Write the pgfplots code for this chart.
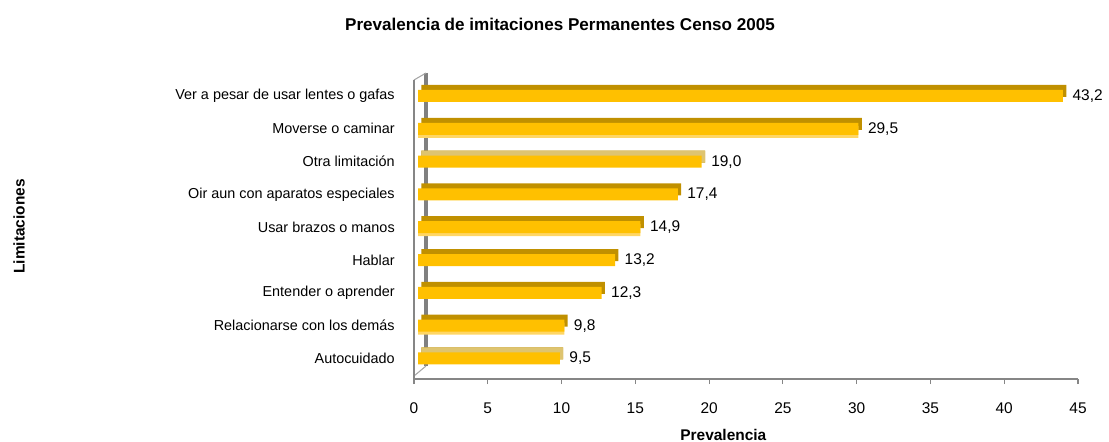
\documentclass[border=0pt]{standalone}
\usepackage{pgfplots}
\usepackage{pgfplotstable}
\pgfplotsset{compat=1.18}
\usepackage{fontspec}
\setmainfont{Liberation Sans}
\definecolor{barmain}{RGB}{255,192,0}
\definecolor{bardark}{RGB}{192,144,0}
\definecolor{barlight}{RGB}{222,196,112}
\definecolor{barpale}{RGB}{255,214,100}
\definecolor{axisgray}{RGB}{134,134,134}
\definecolor{wallgray}{RGB}{128,128,128}

\pgfplotstableread{
y x label
0 43.2 43,2
1 29.5 29,5
2 19.0 19,0
3 17.4 17,4
4 14.9 14,9
5 13.2 13,2
6 12.3 12,3
7 9.8 9,8
8 9.5 9,5
}\datatable

\pgfplotstableread{
y x
2 19.0
8 9.5
}\lighttable

\pgfplotstableread{
y x
1 29.5
4 14.9
7 9.8
}\paletable

\begin{document}
\begin{tikzpicture}
\useasboundingbox (-310.5pt,-47.25pt) rectangle (521.25pt,284.25pt);
\begin{axis}[
  at={(0,0)}, anchor=south west,
  scale only axis, width=498pt, height=224.25pt,
  xmin=0, xmax=45, ymin=-0.488, ymax=8.628, y dir=reverse,
  axis x line*=bottom, axis y line*=left,
  y axis line style={draw=none},
  x axis line style={draw=axisgray, line width=1pt},
  xtick={0,5,...,45},
  xtick style={draw=axisgray, line width=0.8pt},
  major tick length=3.75pt, tick align=outside,
  ytick={0,...,8},
  yticklabels={Ver a pesar de usar lentes o gafas, Moverse o caminar, Otra limitación, Oir aun con aparatos especiales, Usar brazos o manos, Hablar, Entender o aprender, Relacionarse con los demás, Autocuidado},
  ytick style={draw=none},
  xticklabel style={font=\fontsize{11.6pt}{14pt}\selectfont, inner sep=0pt, anchor=north, yshift=-14pt},
  yticklabel style={font=\fontsize{10.8pt}{13pt}\selectfont, inner sep=0pt, anchor=east, xshift=-10.5pt},
  /pgf/number format/assume math mode=true,
  clip=false,
]
\end{axis}
\draw[wallgray, line width=2.6pt] (9pt,229.5pt) -- (9pt,9.75pt);
\draw[wallgray!70, line width=0.8pt] (0pt,224.25pt) -- (9pt,229.5pt);
\draw[wallgray!70, line width=0.8pt] (0pt,2.25pt) -- (9pt,9.75pt);
\draw[axisgray, line width=1.1pt] (0pt,224.25pt) -- (0pt,0pt);
\begin{axis}[
  at={(0,0)}, anchor=south west,
  scale only axis, width=498pt, height=224.25pt,
  xmin=-0.268, xmax=44.206, ymin=-0.488, ymax=8.628, y dir=reverse,
  hide axis, clip=false,
]
\addplot[xbar, bar shift=0pt, bar width=9pt, fill=bardark, draw=none, xshift=2.5pt, yshift=3.75pt] table[x=x,y=y]{\datatable};
\addplot[xbar, bar shift=0pt, bar width=9pt, fill=barlight, draw=none, xshift=2.5pt, yshift=3.75pt] table[x=x,y=y]{\lighttable};
\addplot[xbar, bar shift=0pt, bar width=9pt, fill=barpale, draw=none, yshift=-2.25pt] table[x=x,y=y]{\paletable};
\addplot[xbar, bar shift=0pt, bar width=9pt, fill=barmain, draw=none,
  nodes near coords, point meta=explicit symbolic,
  every node near coord/.append style={font=\fontsize{11.6pt}{14pt}\selectfont, inner sep=0pt, anchor=west, xshift=7pt, black}]
  table[x=x,y=y,meta=label]{\datatable};
\end{axis}
\node[font=\bfseries\fontsize{12.8pt}{15pt}\selectfont, inner sep=0pt] at (109.5pt,266.25pt) {Prevalencia de imitaciones Permanentes Censo 2005};
\node[font=\bfseries\fontsize{11.6pt}{14pt}\selectfont, inner sep=0pt] at (232pt,-42pt) {Prevalencia};
\node[font=\bfseries\fontsize{11.6pt}{14pt}\selectfont, inner sep=0pt, rotate=90] at (-296.25pt,114.4pt) {Limitaciones};
\end{tikzpicture}
\end{document}
